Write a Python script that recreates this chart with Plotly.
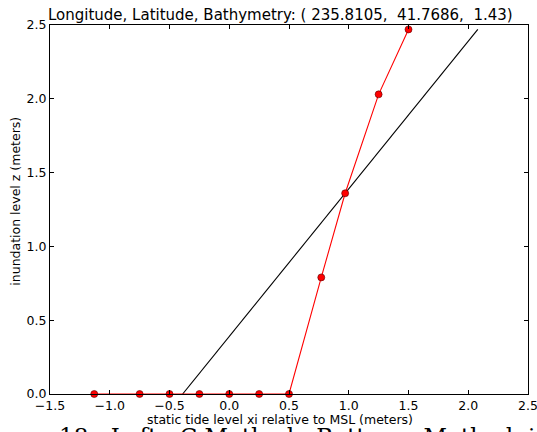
import plotly.graph_objects as go

# Data
xi_pts = [-1.13, -0.75, -0.5, -0.25, 0.0, 0.25, 0.5, 0.77, 0.97, 1.25, 1.5]
z_pts = [0.0, 0.0, 0.0, 0.0, 0.0, 0.0, 0.0, 0.79, 1.36, 2.03, 2.47]
line_xi = [-0.39, 2.08]
line_z = [0.0, 2.47]

title_text = "Longitude, Latitude, Bathymetry: (\u00a0235.8105,\u00a0\u00a041.7686,\u00a0\u00a01.43)"
xlabel = "static tide level xi relative to MSL (meters)"
ylabel = "inundation level z (meters)"
caption = "18:\u00a0\u00a0Left:\u00a0\u00a0C\u00a0Method,\u00a0\u00a0Bottom:\u00a0\u00a0Method\u00a0\u00a0i"

fig = go.Figure()
fig.add_trace(go.Scatter(x=line_xi, y=line_z, mode="lines",
                         line=dict(color="black", width=1.1), showlegend=False))
fig.add_trace(go.Scatter(x=xi_pts, y=z_pts, mode="lines+markers",
                         line=dict(color="#ff0000", width=1.1),
                         marker=dict(color="#ff0000", size=7,
                                     line=dict(color="#550000", width=0.6)),
                         showlegend=False, cliponaxis=False))

axis_common = dict(showgrid=False, zeroline=False, showline=True, linecolor="black",
                   linewidth=1, mirror="allticks", ticks="inside", ticklen=4,
                   tickcolor="black", ticklabeloverflow="allow", automargin=False,
                   tickfont=dict(family="DejaVu Sans", size=12.5, color="black"))

fig.update_layout(
    width=537, height=432,
    margin=dict(l=50, r=9, t=25, b=38),
    paper_bgcolor="white", plot_bgcolor="white",
    title=dict(text=title_text, x=0.522, xanchor="center", y=0.966, yanchor="middle",
               font=dict(family="DejaVu Sans", size=15, color="black")),
    xaxis=dict(range=[-1.5, 2.5], tickvals=[-1.5, -1.0, -0.5, 0.0, 0.5, 1.0, 1.5, 2.0, 2.5],
               ticktext=["\u22121.5", "\u22121.0", "\u22120.5", "0.0", "0.5", "1.0", "1.5", "2.0", "2.5"],
               **axis_common),
    yaxis=dict(range=[0, 2.5], tickvals=[0, 0.5, 1.0, 1.5, 2.0, 2.5],
               ticktext=["0.0", "0.5", "1.0", "1.5", "2.0", "2.5"],
               **axis_common),
)

# axis titles as annotations (positioned like the reference)
fig.add_annotation(text=xlabel, xref="paper", yref="paper", x=0.481, y=-0.069,
                   xanchor="center", yanchor="middle", showarrow=False,
                   font=dict(family="DejaVu Sans", size=12.5, color="black"))
fig.add_annotation(text=ylabel, xref="paper", yref="paper", x=-0.074, y=0.523,
                   xanchor="center", yanchor="middle", showarrow=False, textangle=-90,
                   font=dict(family="DejaVu Sans", size=12.5, color="black"))

fig.add_annotation(text=caption, xref="paper", yref="paper", x=0.015, y=-0.072,
                   xanchor="left", yanchor="top", showarrow=False,
                   font=dict(family="DejaVu Serif", size=23, color="black"))

fig.write_html("out.html")
